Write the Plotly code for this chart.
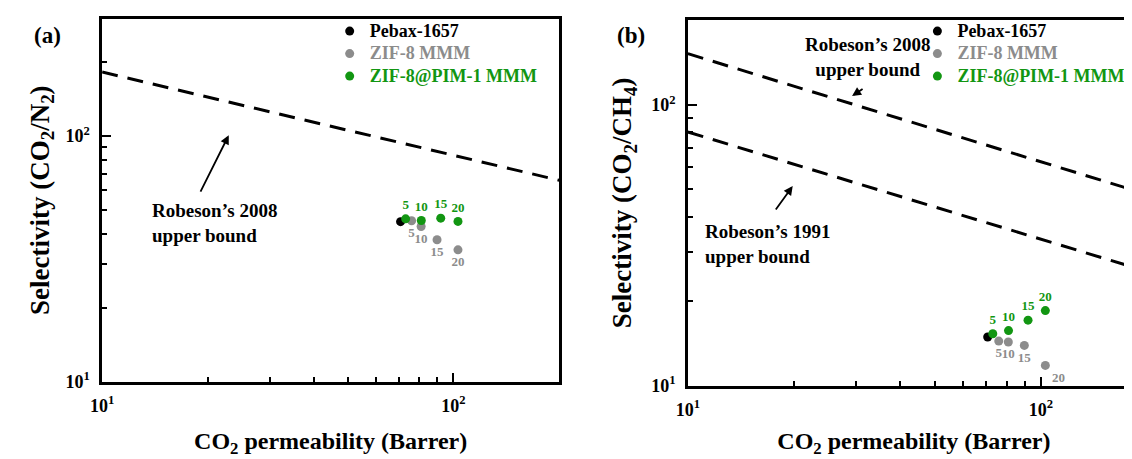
import plotly.graph_objects as go

# ---------------- data ----------------
pebax_perm = [70.7]
pebax_sel_n2 = [44.8]
pebax_sel_ch4 = [14.9]

loading_labels = ["5", "10", "15", "20"]

zif8_perm = [76.0, 80.9, 89.8, 103.0]
zif8_sel_n2 = [45.2, 42.8, 37.8, 34.4]
zif8_sel_ch4 = [14.4, 14.3, 13.9, 11.8]

pim_perm = [73.1, 81.0, 92.0, 103.0]
pim_sel_n2 = [46.0, 45.3, 46.3, 44.9]
pim_sel_ch4 = [15.3, 15.7, 17.1, 18.5]

bound_perm = [10, 200]
robeson2008_n2 = [182, 66]
robeson2008_ch4 = [152, 48]
robeson1991_ch4 = [80, 25.5]

major_vals = [10, 100]
major_text = ["10<sup>1</sup>", "10<sup>2</sup>"]
minor_vals = [20, 30, 40, 50, 60, 70, 80, 90, 200]

# ---------------- styling ----------------
W, H = 1132, 459
FONT = "Liberation Serif, Times New Roman, serif"
BLACK = "#000000"
GRAY = "#8c8c8c"
GREEN = "#129612"
DASH = "16px,10px"


def px_x(p):
    return p / W


def px_y(p):
    return 1 - p / H


def leg_name(txt, color):
    return f"<span style='color:{color};font-size:18px'>{txt}</span>"


fig = go.Figure()


def add_panel(xa, ya, legend_name, sel_pebax, sel_zif, sel_pim, bounds, zif_textpos, pim_textpos):
    for yb in bounds:
        fig.add_trace(go.Scatter(
            x=bound_perm, y=yb, mode="lines",
            line=dict(color=BLACK, width=3, dash=DASH),
            showlegend=False, hoverinfo="skip", xaxis=xa, yaxis=ya))
    fig.add_trace(go.Scatter(
        x=pebax_perm, y=sel_pebax, mode="markers",
        marker=dict(color=BLACK, size=9),
        name=leg_name("Pebax-1657", BLACK), legend=legend_name, xaxis=xa, yaxis=ya))
    fig.add_trace(go.Scatter(
        x=zif8_perm, y=sel_zif, mode="markers+text",
        marker=dict(color=GRAY, size=9),
        text=loading_labels, textposition=zif_textpos,
        textfont=dict(family=FONT, size=13, color=GRAY, weight="bold"),
        name=leg_name("ZIF-8 MMM", GRAY),
        legend=legend_name, xaxis=xa, yaxis=ya))
    fig.add_trace(go.Scatter(
        x=pim_perm, y=sel_pim, mode="markers+text",
        marker=dict(color=GREEN, size=9),
        text=loading_labels, textposition=pim_textpos,
        textfont=dict(family=FONT, size=13, color=GREEN, weight="bold"),
        name=leg_name("ZIF-8@PIM-1 MMM", GREEN),
        legend=legend_name, xaxis=xa, yaxis=ya))


add_panel("x", "y", "legend", pebax_sel_n2, zif8_sel_n2, pim_sel_n2,
          [robeson2008_n2],
          ["bottom center"] * 4, ["top center"] * 4)
add_panel("x2", "y2", "legend2", pebax_sel_ch4, zif8_sel_ch4, pim_sel_ch4,
          [robeson2008_ch4, robeson1991_ch4],
          ["bottom center", "bottom center", "bottom center", "bottom right"],
          ["top center"] * 4)

axis_common = dict(
    type="log", showgrid=False, zeroline=False,
    showline=True, linecolor=BLACK, linewidth=2.5,
    ticks="inside", ticklen=9, tickwidth=2, tickcolor=BLACK,
    tickmode="array", tickvals=major_vals, ticktext=major_text,
    tickfont=dict(family=FONT, size=18, color=BLACK, weight="bold"),
    minor=dict(ticks="inside", ticklen=5, tickwidth=2, tickcolor=BLACK,
               tickvals=minor_vals),
)

xtitle_font = dict(family=FONT, size=24, color=BLACK, weight="bold")
xtitle_text = "CO<sub>2</sub> permeability (Barrer)"
ytitle_font = dict(family=FONT, size=27, color=BLACK, weight="bold")

fig.update_layout(
    width=W, height=H, autosize=False,
    margin=dict(l=0, r=0, t=0, b=0),
    paper_bgcolor="white", plot_bgcolor="white",
    font=dict(family=FONT, color=BLACK, weight="bold"),
    xaxis=dict(axis_common, domain=[px_x(83), px_x(545)], range=[1, 2.301],
               mirror=True, anchor="y", ticklabelstandoff=6,
               title=dict(text=xtitle_text, font=xtitle_font, standoff=18)),
    yaxis=dict(axis_common, domain=[px_y(382), px_y(11)], range=[1, 2.477],
               mirror=True, anchor="x", ticklabelstandoff=6,
               title=dict(text="Selectivity (CO<sub>2</sub>/N<sub>2</sub>)",
                          font=ytitle_font, standoff=9)),
    xaxis2=dict(axis_common, domain=[px_x(675), 1.0], range=[1, 2.281],
                mirror=True, anchor="y2", ticklabelstandoff=6,
                title=dict(text=xtitle_text, font=xtitle_font, standoff=14)),
    yaxis2=dict(axis_common, domain=[px_y(386), px_y(12.5)], range=[1, 2.301],
                mirror=False, anchor="x2", ticklabelstandoff=6,
                title=dict(text="Selectivity (CO<sub>2</sub>/CH<sub>4</sub>)",
                           font=ytitle_font, standoff=12)),
    legend=dict(x=px_x(313), y=px_y(7), xanchor="left", yanchor="top",
                bgcolor="rgba(0,0,0,0)", borderwidth=0,
                font=dict(family=FONT, size=15, color=BLACK, weight="bold"),
                itemwidth=30, tracegroupgap=0),
    legend2=dict(x=px_x(907), y=px_y(7), xanchor="left", yanchor="top",
                 bgcolor="rgba(0,0,0,0)", borderwidth=0,
                 font=dict(family=FONT, size=15, color=BLACK, weight="bold"),
                 itemwidth=30, tracegroupgap=0),
    showlegend=True,
)

ann_font = dict(family=FONT, size=19, color=BLACK, weight="bold")
label_font = dict(family=FONT, size=23, color=BLACK, weight="bold")
annotations = [
    dict(text="(a)", x=px_x(28), y=px_y(28), xref="paper", yref="paper",
         xanchor="center", yanchor="middle", showarrow=False, font=label_font),
    dict(text="(b)", x=px_x(618), y=px_y(28), xref="paper", yref="paper",
         xanchor="center", yanchor="middle", showarrow=False, font=label_font),
    dict(text="Robeson’s 2008<br>upper bound", x=px_x(131), y=px_y(220),
         xref="paper", yref="paper", xanchor="left", yanchor="middle", align="left",
         showarrow=False, font=ann_font),
    dict(text="", x=px_x(211), y=px_y(130), xref="paper", yref="paper",
         showarrow=True, ax=-29, ay=58, arrowhead=2, arrowsize=1, arrowwidth=1.8,
         arrowcolor=BLACK),
    dict(text="Robeson’s 2008<br>upper bound", x=px_x(857), y=px_y(50),
         xref="paper", yref="paper", xanchor="center", yanchor="middle", align="center",
         showarrow=False, font=ann_font),
    dict(text="", x=px_x(841), y=px_y(90), xref="paper", yref="paper",
         showarrow=True, ax=12, ay=-8, arrowhead=2, arrowsize=1, arrowwidth=1.8,
         arrowcolor=BLACK),
    dict(text="Robeson’s 1991<br>upper bound", x=px_x(690), y=px_y(241),
         xref="paper", yref="paper", xanchor="left", yanchor="middle", align="left",
         showarrow=False, font=ann_font),
    dict(text="", x=px_x(781), y=px_y(182), xref="paper", yref="paper",
         showarrow=True, ax=-18, ay=25, arrowhead=2, arrowsize=1, arrowwidth=1.8,
         arrowcolor=BLACK),
]
fig.update_layout(annotations=annotations)

fig.write_html("out.html")
